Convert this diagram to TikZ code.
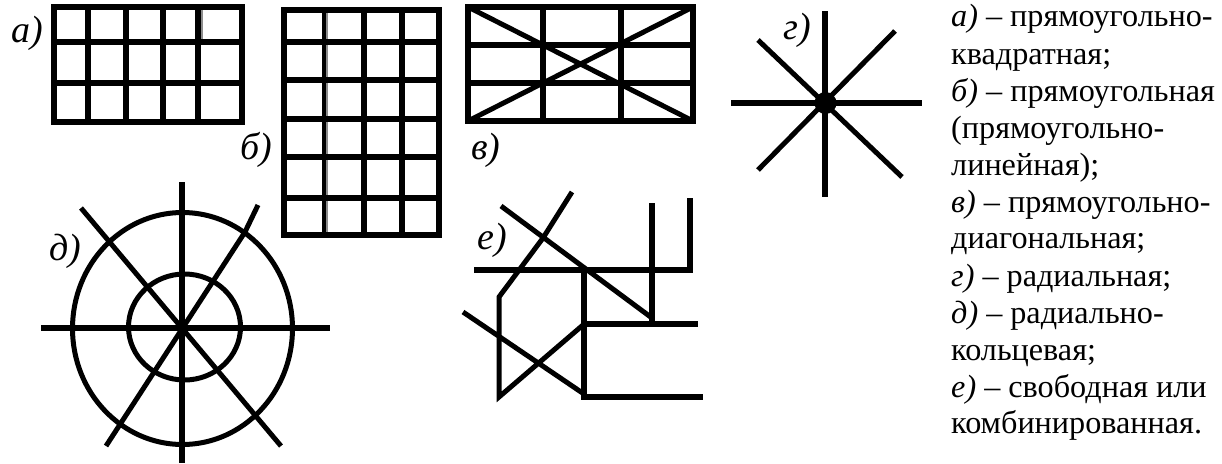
\documentclass[tikz,border=0pt]{standalone}
\usepackage{fontspec}
\setmainfont{Liberation Serif}
\tikzset{
 thick line/.style={line width=6.5pt,line cap=butt},
 mid line/.style={line width=5.7pt},
 thin line/.style={line width=5pt},
 shade strip/.style={line width=2.5pt,draw=black!45},
 tag/.style={inner sep=0pt,font=\fontsize{38}{38}\selectfont\itshape},
 txt/.style={inner sep=0pt,anchor=base west,font=\fontsize{32.2}{36}\selectfont},
}
\begin{document}
\begin{tikzpicture}[x=1pt,y=-1pt]
\useasboundingbox (0,0) rectangle (1222,463);
\fill[white] (0,0) rectangle (1222,463);
% a
\draw[shade strip] (202,10)--(202,39);
\draw[mid line] (88,7)--(88,122) (126,7)--(126,122) (163,7)--(163,122) (198,7)--(198,122) (54,42)--(242,42) (54,83)--(242,83);
\draw[thick line] (54,7) rectangle (242,122);
\node[tag] (la) at (27,33) {а)};
% b
\draw[shade strip] (326.5,10)--(326.5,235);
\draw[line width=4pt] (324,10)--(324,235);
\draw[mid line] (364,10)--(364,235) (402,10)--(402,235)
 (284,42)--(439,42) (284,80)--(439,80) (284,119)--(439,119) (284,157)--(439,157) (284,198)--(439,198);
\draw[thick line] (284,10) rectangle (439,235);
\node[tag] (lb) at (256,150) {б)};
% v
\draw[mid line] (543,7)--(543,121) (621,7)--(621,121) (468,45)--(693,45) (468,83)--(693,83);
\draw[thin line] (468,7)--(693,121) (468,121)--(693,7);
\draw[thick line] (468,7) rectangle (693,121);
\node[tag] (lv) at (486,150) {в)};
% g
\draw[mid line] (825,11)--(825,197) (731,103)--(922,103);
\draw[thin line] (758,40)--(902,177) (758,170)--(895,31);
\fill (825.5,103) circle (11);
\node[tag] (lg) at (797,30) {г)};
% d
\draw[mid line] (182,182)--(182,463) (41,328)--(330,328);
\draw[thin line] (182.5,328.5) ellipse (110 and 116) (184.5,327) ellipse (56 and 53);
\draw[thin line] (81,208)--(281,446) (106,446)--(245,232)--(258,205);
\node[tag] (ld) at (65,251) {д)};
% e
\draw[mid line] (474,270)--(690,270)--(690,198) (652,203)--(652,324) (583,324)--(698,324);
\draw[line width=6.5pt] (584,268)--(584,397)--(703,397);
\draw[thin line] (501,206)--(652,318) (572,192)--(543,238)--(499,297)--(499,397)--(583,325) (463,312)--(584,394);
\node[tag] (le) at (492,240) {е)};
% text
\node[txt] (t1) at (951,27) {\textit{а)} – прямоугольно-};
\node[txt] (t2) at (951,64) {квадратная;};
\node[txt] (t3) at (951,101) {\textit{б)} – прямоугольная};
\node[txt] (t4) at (951,138) {(прямоугольно-};
\node[txt] (t5) at (951,175) {линейная);};
\node[txt] (t6) at (951,212) {\textit{в)} – прямоугольно-};
\node[txt] (t7) at (951,248) {диагональная;};
\node[txt] (t8) at (951,286) {\textit{г)} – радиальная;};
\node[txt] (t9) at (951,323) {\textit{д)} – радиально-};
\node[txt] (t10) at (951,360) {кольцевая;};
\node[txt] (t11) at (951,397) {\textit{е)} – свободная или};
\node[txt] (t12) at (951,433) {комбинированная.};
\end{tikzpicture}
\end{document}
